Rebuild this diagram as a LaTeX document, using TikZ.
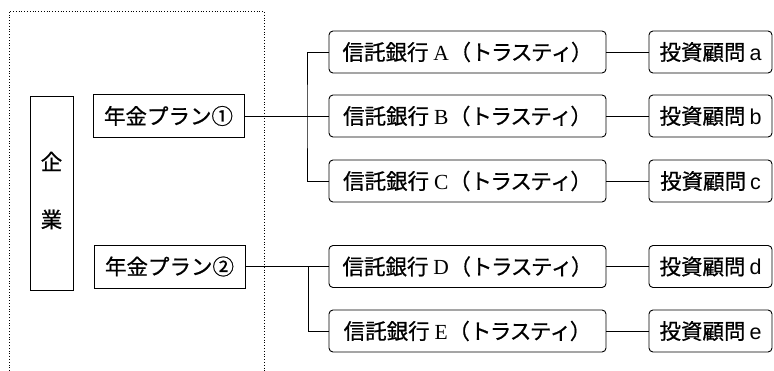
\documentclass[tikz,border=0pt]{standalone}
\usepackage{fontspec}
\newfontfamily\jp[FakeBold=0.7]{Noto Sans CJK JP}
\newfontfamily\lser{Liberation Serif}
\newfontfamily\lsan{Liberation Sans}
\newcommand{\kk}{\kern-1.5pt}
\newcommand{\trtxt}[1]{信託銀行\hspace{5pt}{\lser #1}\hspace{0.5pt}（ト\kk ラ\kk ス\kk テ\kk ィ\kk ）\hspace{-5pt}}
\begin{document}
\begin{tikzpicture}[x=1pt,y=-1pt,
  sq/.style={draw,line width=0.9pt,inner sep=0pt,font=\jp\fontsize{21.5}{22}\selectfont},
  rb/.style={sq,rounded corners=4pt,minimum height=42pt},
  trust/.style={rb,minimum width=277pt},
  adv/.style={rb,minimum width=123pt},
  plan/.style={sq,minimum width=151pt,minimum height=43pt},
  con/.style={line width=0.9pt}]
\useasboundingbox (0,0) rectangle (774,371);
\draw[dotted,line width=0.8pt] (9,371) -- (9,11) -- (264,11) -- (264,371);
\node[sq,minimum width=43pt,minimum height=194pt] (corp) at (51.5,193)
  {\begin{tabular}{@{}c@{}}企\\[33pt]業\end{tabular}};
\node[plan] (p1) at (168.5,116) {年金プラン①};
\node[plan] (p2) at (169.5,266.5) {年金プラン②};
\node[trust] (tA) at (467.5,52) {\trtxt{A}};
\node[trust] (tB) at (467.5,116) {\trtxt{B}};
\node[trust] (tC) at (467.5,181) {\trtxt{C}};
\node[trust] (tD) at (467.5,266.5) {\trtxt{D}};
\node[trust] (tE) at (467.5,331) {\trtxt{E}};
\node[adv] (aA) at (710.5,52) {投資顧問\hspace{4pt}{\lsan a}\hspace{5pt}};
\node[adv] (aB) at (710.5,116) {投資顧問\hspace{4pt}{\lsan b}\hspace{5pt}};
\node[adv] (aC) at (710.5,181) {投資顧問\hspace{4pt}{\lsan c}\hspace{5pt}};
\node[adv] (aD) at (710.5,266.5) {投資顧問\hspace{4pt}{\lsan d}\hspace{5pt}};
\node[adv] (aE) at (710.5,331) {投資顧問\hspace{4pt}{\lsan e}\hspace{5pt}};
\coordinate (br1) at (307,116);
\coordinate (br2) at (308,266.5);
\draw[con] (p1.east) -- (tB.west);
\draw[con] (tA.west) -| (br1) |- (tC.west);
\draw[con] (p2.east) -- (tD.west);
\draw[con] (br2) |- (tE.west);
\foreach \t/\a in {tA/aA,tB/aB,tC/aC,tD/aD,tE/aE}
  \draw[con] (\t.east) -- (\a.west);
\end{tikzpicture}
\end{document}
